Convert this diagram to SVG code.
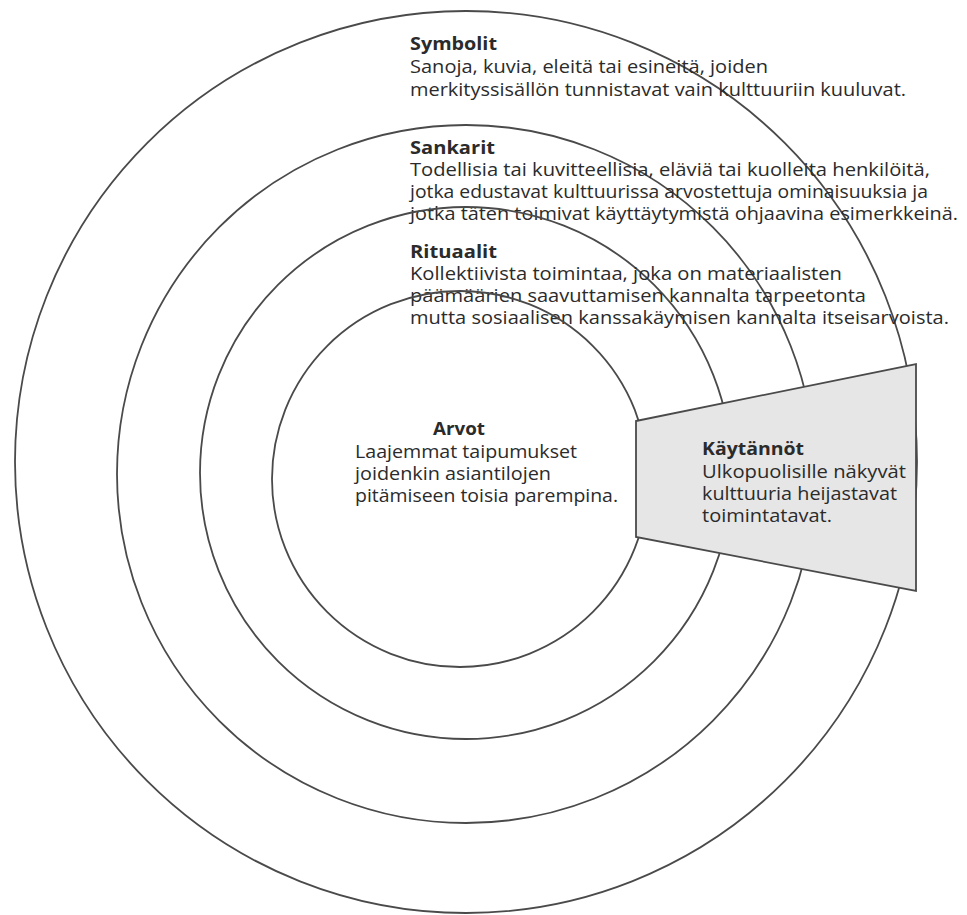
<svg xmlns="http://www.w3.org/2000/svg" width="967" height="915" viewBox="0 0 967 915">
  <style>
    .ring { fill: none; stroke: #4a4a4a; stroke-width: 1.8; }
    .band { fill: #e6e6e6; stroke: #4a4a4a; stroke-width: 1.8; stroke-linejoin: miter; }
    .label { font-family: "Open Sans", "Noto Sans", "Liberation Sans", sans-serif; font-size: 18px; fill: #2b2b2b; }
    .head { font-weight: bold; }
  </style>
  <rect width="967" height="915" fill="#ffffff"/>

  <!-- Outer layer: symbols -->
  <g id="symbolit">
    <circle class="ring" cx="466" cy="462" r="451"/>
    <text class="label head" x="410" y="50" textLength="87" lengthAdjust="spacingAndGlyphs">Symbolit</text>
    <text class="label" x="410" y="73" textLength="358" lengthAdjust="spacingAndGlyphs">Sanoja, kuvia, eleitä tai esineitä, joiden</text>
    <text class="label" x="410" y="96" textLength="496" lengthAdjust="spacingAndGlyphs">merkityssisällön tunnistavat vain kulttuuriin kuuluvat.</text>
  </g>

  <!-- Second layer: heroes -->
  <g id="sankarit">
    <circle class="ring" cx="466" cy="474" r="349"/>
    <text class="label head" x="410" y="154" textLength="85" lengthAdjust="spacingAndGlyphs">Sankarit</text>
    <text class="label" x="410" y="176" textLength="520" lengthAdjust="spacingAndGlyphs">Todellisia tai kuvitteellisia, eläviä tai kuolleita henkilöitä,</text>
    <text class="label" x="410" y="198" textLength="518" lengthAdjust="spacingAndGlyphs">jotka edustavat kulttuurissa arvostettuja ominaisuuksia ja</text>
    <text class="label" x="410" y="220" textLength="548" lengthAdjust="spacingAndGlyphs">jotka täten toimivat käyttäytymistä ohjaavina esimerkkeinä.</text>
  </g>

  <!-- Third layer: rituals -->
  <g id="rituaalit">
    <circle class="ring" cx="466" cy="473" r="266"/>
    <text class="label head" x="410" y="258" textLength="87" lengthAdjust="spacingAndGlyphs">Rituaalit</text>
    <text class="label" x="410" y="280" textLength="432" lengthAdjust="spacingAndGlyphs">Kollektiivista toimintaa, joka on materiaalisten</text>
    <text class="label" x="410" y="302" textLength="456" lengthAdjust="spacingAndGlyphs">päämäärien saavuttamisen kannalta tarpeetonta</text>
    <text class="label" x="410" y="324" textLength="539" lengthAdjust="spacingAndGlyphs">mutta sosiaalisen kanssakäymisen kannalta itseisarvoista.</text>
  </g>

  <!-- Core: values -->
  <g id="arvot">
    <circle class="ring" cx="460" cy="479" r="188"/>
    <text class="label head" x="433" y="435" textLength="52" lengthAdjust="spacingAndGlyphs">Arvot</text>
    <text class="label" x="355" y="458" textLength="222" lengthAdjust="spacingAndGlyphs">Laajemmat taipumukset</text>
    <text class="label" x="355" y="480" textLength="196" lengthAdjust="spacingAndGlyphs">joidenkin asiantilojen</text>
    <text class="label" x="355" y="502" textLength="263" lengthAdjust="spacingAndGlyphs">pitämiseen toisia parempina.</text>
  </g>

  <!-- Practices cut through the layers -->
  <g id="kaytannot">
    <polygon class="band" points="636,421 916,364 916,591 636,537"/>
    <text class="label head" x="702" y="455" textLength="102" lengthAdjust="spacingAndGlyphs">Käytännöt</text>
    <text class="label" x="702" y="478" textLength="204" lengthAdjust="spacingAndGlyphs">Ulkopuolisille näkyvät</text>
    <text class="label" x="702" y="500" textLength="195" lengthAdjust="spacingAndGlyphs">kulttuuria heijastavat</text>
    <text class="label" x="702" y="522" textLength="130" lengthAdjust="spacingAndGlyphs">toimintatavat.</text>
  </g>
</svg>
